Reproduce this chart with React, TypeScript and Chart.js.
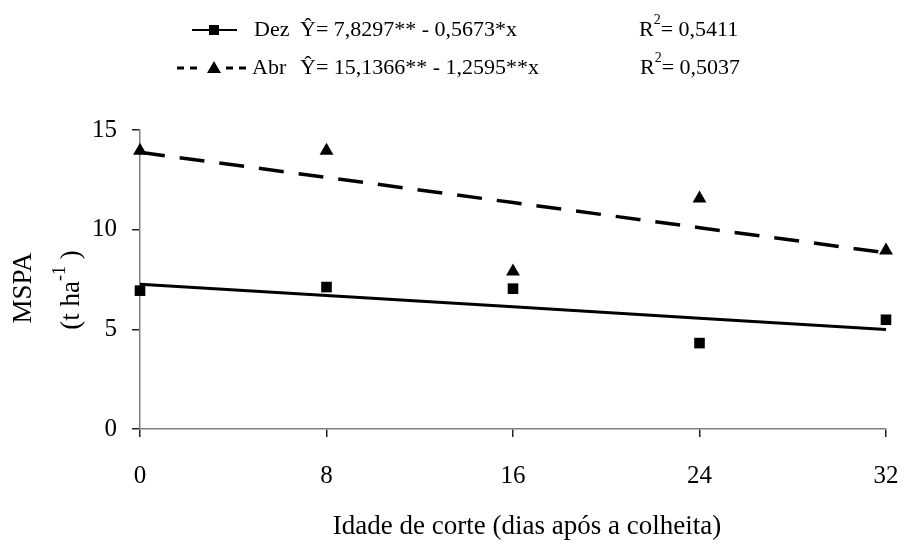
import React, { useEffect, useRef } from "react";
import { Chart, registerables } from "chart.js";

Chart.register(...registerables);

// Cutting age (days after harvest)
const cuttingDays = [0, 8, 16, 24, 32];
const xTicks = [0, 8, 16, 24, 32];
const yTicks = [0, 5, 10, 15];

// Observed shoot dry matter (t/ha)
const dezObserved = [6.94, 7.12, 7.04, 4.31, 5.48];
const abrObserved = [13.96, 13.96, 7.9, 11.56, 8.95];

// Fitted regression values at each cutting age
const dezFitted = [7.26, 6.7, 6.13, 5.56, 4.99];
const abrFitted = [13.88, 12.62, 11.36, 10.1, 8.84];

const SERIF = '"Liberation Serif", "Times New Roman", serif';

const toPoints = (ys: number[]) => cuttingDays.map((x, i) => ({ x, y: ys[i] }));

function drawSuperscript(
  ctx: CanvasRenderingContext2D,
  x: number,
  y: number,
  base: string,
  sup: string,
  rest: string,
  size: number
) {
  ctx.textAlign = "left";
  ctx.textBaseline = "middle";
  ctx.font = `${size}px ${SERIF}`;
  ctx.fillText(base, x, y);
  let cx = x + ctx.measureText(base).width;
  ctx.font = `${Math.round(size * 0.65)}px ${SERIF}`;
  ctx.fillText(sup, cx, y - size * 0.42);
  cx += ctx.measureText(sup).width;
  ctx.font = `${size}px ${SERIF}`;
  ctx.fillText(rest, cx, y);
  return cx + ctx.measureText(rest).width;
}

const figureText = {
  id: "figureText",
  afterDraw(chart: any) {
    const ctx: CanvasRenderingContext2D = chart.ctx;
    ctx.save();
    ctx.fillStyle = "#000";
    ctx.strokeStyle = "#000";
    const fs = 22;

    // Legend row 1: solid line with square
    const y1 = 30;
    ctx.lineWidth = 2;
    ctx.setLineDash([]);
    ctx.beginPath();
    ctx.moveTo(192, y1);
    ctx.lineTo(237, y1);
    ctx.stroke();
    ctx.fillRect(209, y1 - 5, 10, 10);
    ctx.font = `${fs}px ${SERIF}`;
    ctx.textAlign = "left";
    ctx.textBaseline = "middle";
    ctx.fillText("Dez", 254, y1);
    ctx.fillText("Ŷ= 7,8297** - 0,5673*x", 300, y1);
    drawSuperscript(ctx, 639, y1, "R", "2", "= 0,5411", fs);

    // Legend row 2: dashed line with triangle
    const y2 = 68;
    ctx.lineWidth = 3;
    [[177, 184], [190, 197], [226, 233], [239, 246]].forEach(([a, b]) => {
      ctx.beginPath();
      ctx.moveTo(a, y2);
      ctx.lineTo(b, y2);
      ctx.stroke();
    });
    ctx.beginPath();
    ctx.moveTo(214, y2 - 7);
    ctx.lineTo(221, y2 + 5);
    ctx.lineTo(207, y2 + 5);
    ctx.closePath();
    ctx.fill();
    ctx.font = `${fs}px ${SERIF}`;
    ctx.textAlign = "left";
    ctx.fillText("Abr", 252, y2);
    ctx.fillText("Ŷ= 15,1366** - 1,2595**x", 300, y2);
    drawSuperscript(ctx, 640, y2, "R", "2", "= 0,5037", fs);

    // X axis title
    const ts = 27;
    ctx.font = `${ts}px ${SERIF}`;
    ctx.textAlign = "center";
    ctx.textBaseline = "middle";
    ctx.fillText("Idade de corte (dias após a colheita)", 527, 527);

    // Y axis title (rotated)
    ctx.save();
    ctx.translate(24, 288);
    ctx.rotate(-Math.PI / 2);
    ctx.font = `${ts}px ${SERIF}`;
    ctx.textAlign = "center";
    ctx.fillText("MSPA", 0, 0);
    ctx.restore();

    ctx.save();
    ctx.translate(72, 290);
    ctx.rotate(-Math.PI / 2);
    ctx.font = `${ts}px ${SERIF}`;
    const parts = ["(t ha", "-1", " )"];
    const wBase = ctx.measureText(parts[0]).width + ctx.measureText(parts[2]).width;
    ctx.font = `${Math.round(ts * 0.65)}px ${SERIF}`;
    const wSup = ctx.measureText(parts[1]).width;
    drawSuperscript(ctx, -(wBase + wSup) / 2, 0, parts[0], parts[1], parts[2], ts);
    ctx.restore();

    ctx.restore();
  },
};

export default function App() {
  const canvasRef = useRef<HTMLCanvasElement | null>(null);

  useEffect(() => {
    const canvas = canvasRef.current;
    if (!canvas) return;
    const chart = new Chart(canvas, {
      type: "scatter",
      data: {
        datasets: [
          {
            label: "Dez",
            data: toPoints(dezObserved),
            pointStyle: "rect",
            pointRadius: 7.5,
            backgroundColor: "#000",
            borderColor: "#000",
            borderWidth: 0,
            order: 0,
            clip: false as any,
          },
          {
            label: "Abr",
            data: toPoints(abrObserved),
            pointStyle: "triangle",
            pointRadius: 8,
            backgroundColor: "#000",
            borderColor: "#000",
            borderWidth: 0,
            order: 0,
            clip: false as any,
          },
          {
            label: "Dez ajuste",
            data: toPoints(dezFitted),
            showLine: true,
            pointRadius: 0,
            borderColor: "#000",
            borderWidth: 3,
            order: 1,
            clip: false as any,
          },
          {
            label: "Abr ajuste",
            data: toPoints(abrFitted),
            showLine: true,
            pointRadius: 0,
            borderColor: "#000",
            borderWidth: 3.5,
            borderDash: [25, 15],
            order: 1,
            clip: false as any,
          },
        ],
      },
      options: {
        responsive: false,
        animation: false,
        devicePixelRatio: 1,
        layout: { padding: { top: 130, right: 17, left: 0, bottom: 0 } },
        plugins: {
          legend: { display: false },
          tooltip: { enabled: false },
          title: { display: false },
        },
        scales: {
          x: {
            type: "linear",
            min: 0,
            max: 32,
            afterFit: (scale: any) => {
              scale.height = 120;
              // keep the plot edges fixed; end labels fit in the margins
              scale.paddingLeft = 0;
              scale.paddingRight = 0;
            },
            afterBuildTicks: (scale: any) => {
              scale.ticks = xTicks.map((v) => ({ value: v }));
            },
            ticks: {
              color: "#000",
              font: { family: SERIF, size: 25 },
              padding: 24,
              maxRotation: 0,
            },
            grid: {
              drawOnChartArea: false,
              drawTicks: true,
              tickLength: 8,
              color: "#222",
              lineWidth: 1.5,
            },
            border: { display: true, color: "#808080", width: 1.5 },
          },
          y: {
            type: "linear",
            min: 0,
            max: 15,
            afterFit: (scale: any) => {
              scale.width = 140;
            },
            afterBuildTicks: (scale: any) => {
              scale.ticks = yTicks.map((v) => ({ value: v }));
            },
            ticks: {
              color: "#000",
              font: { family: SERIF, size: 25 },
              padding: 15,
            },
            grid: {
              drawOnChartArea: false,
              drawTicks: true,
              tickLength: 8,
              color: "#222",
              lineWidth: 1.5,
            },
            border: { display: true, color: "#808080", width: 1.5 },
          },
        },
      },
      plugins: [figureText],
    });
    return () => chart.destroy();
  }, []);

  return (
    <div style={{ position: "absolute", left: 0, top: 0, width: 903, height: 549, background: "#fff" }}>
      <canvas ref={canvasRef} width={903} height={549} style={{ display: "block" }} />
    </div>
  );
}
